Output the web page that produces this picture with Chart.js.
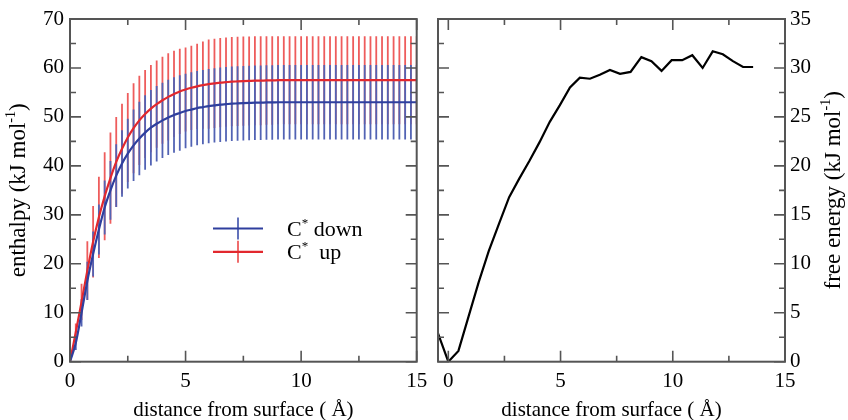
<!DOCTYPE html>
<html lang="en">
<head>
    <meta charset="UTF-8">
    <title>enthalpy and free energy vs distance</title>
    <script src="https://cdn.jsdelivr.net/npm/chart.js"></script>
    <style>
        body {
            margin: 0;
            padding: 0;
            background: #fff;
            width: 848px;
            height: 420px;
            overflow: hidden;
            position: relative;
        }
        canvas {
            position: absolute;
            top: 0;
        }
        #enthalpyChart { left: 0; }
        #freeChart { left: 430px; }
    </style>
</head>
<body>

    <canvas id="enthalpyChart" width="440" height="420"></canvas>
    <canvas id="freeChart" width="418" height="420"></canvas>

    <script>
        // left panel: enthalpy (kJ/mol) vs distance (A), mean and error
        const distance = [0, 0.25, 0.5, 0.75, 1, 1.25, 1.5, 1.75, 2, 2.25, 2.5, 2.75, 3, 3.25, 3.5, 3.75,
            4, 4.25, 4.5, 4.75, 5, 5.25, 5.5, 5.75, 6, 6.25, 6.5, 6.75, 7, 7.25, 7.5, 7.75,
            8, 8.25, 8.5, 8.75, 9, 9.25, 9.5, 9.75, 10, 10.25, 10.5, 10.75, 11, 11.25, 11.5, 11.75,
            12, 12.25, 12.5, 12.75, 13, 13.25, 13.5, 13.75, 14, 14.25, 14.5, 14.75, 15];

        const downMean = [0, 3.8, 10.0, 16.5, 22.0, 27.0, 31.5, 35.0, 38.0, 40.5, 42.5, 44.2, 45.6, 46.8, 47.8, 48.6,
            49.3, 49.9, 50.4, 50.8, 51.2, 51.5, 51.8, 52.0, 52.2, 52.35, 52.5, 52.6, 52.7, 52.75, 52.8, 52.85,
            52.9, 52.9, 52.95, 52.95, 53.0, 53.0, 53.0, 53.0, 53.0, 53.0, 53.0, 53.0, 53.0, 53.0, 53.0, 53.0,
            53.0, 53.0, 53.0, 53.0, 53.0, 53.0, 53.0, 53.0, 53.0, 53.0, 53.0, 53.0, 53.0];
        const downErr = [0, 1.4, 2.8, 3.9, 4.6, 5.1, 5.5, 6.0, 6.4, 6.8, 7.1, 7.3, 7.5, 7.6, 7.7, 7.7,
            7.7, 7.7, 7.7, 7.7, 7.6, 7.6, 7.6, 7.6, 7.6, 7.6, 7.6, 7.6, 7.6, 7.6, 7.6, 7.6,
            7.6, 7.6, 7.6, 7.6, 7.6, 7.6, 7.6, 7.6, 7.6, 7.6, 7.6, 7.6, 7.6, 7.6, 7.6, 7.6,
            7.6, 7.6, 7.6, 7.6, 7.6, 7.6, 7.6, 7.6, 7.6, 7.6, 7.6, 7.6, 7.6];

        const upMean = [0, 6.0, 12.2, 18.6, 24.5, 29.5, 33.8, 37.5, 40.8, 43.5, 45.8, 47.7, 49.3, 50.6, 51.7, 52.6,
            53.4, 54.1, 54.7, 55.2, 55.6, 55.95, 56.25, 56.5, 56.7, 56.85, 57.0, 57.1, 57.2, 57.25, 57.3, 57.35,
            57.4, 57.4, 57.45, 57.45, 57.5, 57.5, 57.5, 57.5, 57.5, 57.5, 57.5, 57.5, 57.5, 57.5, 57.5, 57.5,
            57.5, 57.5, 57.5, 57.5, 57.5, 57.5, 57.5, 57.5, 57.5, 57.5, 57.5, 57.5, 57.5];
        const upErr = [0, 1.8, 3.7, 6.0, 7.3, 8.3, 9.0, 9.3, 9.2, 9.2, 9.1, 9.2, 9.1, 9.0, 8.9, 8.9,
            8.9, 8.9, 8.8, 8.7, 8.6, 8.6, 8.7, 8.9, 9.1, 9.1, 9.1, 9.1, 9.1, 9.1, 9.1, 9.1,
            9.1, 9.1, 9.05, 9.05, 9.0, 9.0, 9.0, 9.0, 9.0, 9.0, 9.0, 9.0, 9.0, 9.0, 9.0, 9.0,
            9.0, 9.0, 9.0, 9.0, 9.0, 9.0, 9.0, 9.0, 9.0, 9.0, 9.0, 9.0, 9.0];

        // right panel: free energy (kJ/mol) vs distance (A)
        const freeX = [-0.46, 0, 0.45, 0.9, 1.35, 1.8, 2.26, 2.71, 3.16, 3.61, 4.06, 4.52, 4.97, 5.42, 5.86, 6.31,
            6.75, 7.2, 7.65, 8.12, 8.6, 9.05, 9.5, 9.95, 10.42, 10.87, 11.33, 11.78, 12.23, 12.68, 13.13, 13.58];
        const freeY = [2.9, 0, 1.1, 4.6, 8.1, 11.3, 14.1, 16.8, 18.7, 20.5, 22.4, 24.5, 26.2, 28.0, 29.0, 28.9,
            29.3, 29.8, 29.4, 29.6, 31.1, 30.7, 29.7, 30.8, 30.8, 31.3, 30.0, 31.7, 31.4, 30.7, 30.1, 30.1];

        // ticks
        const xMajor = [0, 5, 10, 15];
        const xMinor = [2.5, 7.5, 12.5];
        const enthalpyMajor = [0, 10, 20, 30, 40, 50, 60, 70];
        const enthalpyMinor = [5, 15, 25, 35, 45, 55, 65];
        const freeMajor = [0, 5, 10, 15, 20, 25, 30, 35];
        const freeMinor = [2.5, 7.5, 12.5, 17.5, 22.5, 27.5, 32.5];

        const SERIF = "'Liberation Serif', 'DejaVu Serif', serif";
        const BLUE = '#2f3f9e', BLUE_BAR = '#5263b4';
        const RED = '#e2282e', RED_BAR = '#ee5c5c';

        const toPoints = (xs, ys) => xs.map((x, i) => ({ x: x, y: ys[i] }));

        // text with superscript pieces: parts = [[text, isSup], ...]
        function drawParts(ctx, parts, x, y, size, rotate, align) {
            ctx.save();
            ctx.translate(x, y);
            if (rotate) ctx.rotate(rotate);
            const big = size + 'px ' + SERIF;
            const small = Math.round(size * 0.6) + 'px ' + SERIF;
            let total = 0;
            parts.forEach(p => { ctx.font = p[1] ? small : big; total += ctx.measureText(p[0]).width; });
            let cx = align === 'left' ? 0 : -total / 2;
            ctx.fillStyle = '#000';
            ctx.textBaseline = 'alphabetic';
            ctx.textAlign = 'left';
            parts.forEach(p => {
                ctx.font = p[1] ? small : big;
                ctx.fillText(p[0], cx, p[1] ? -size * 0.42 : 0);
                cx += ctx.measureText(p[0]).width;
            });
            ctx.restore();
        }

        // vertical error bars, drawn under the lines
        const errorBars = {
            id: 'errorBars',
            beforeDatasetsDraw(chart) {
                const { ctx, chartArea: a, scales: { x, y } } = chart;
                ctx.save();
                ctx.beginPath();
                ctx.rect(a.left, a.top, a.right - a.left, a.bottom - a.top);
                ctx.clip();
                ctx.lineWidth = 1.8;
                for (let d = chart.data.datasets.length - 1; d >= 0; d--) {
                    const ds = chart.data.datasets[d];
                    if (!ds.errors) continue;
                    ctx.strokeStyle = ds.errorColor;
                    ds.data.forEach((p, i) => {
                        const e = ds.errors[i];
                        if (!e) return;
                        const px = x.getPixelForValue(p.x);
                        ctx.beginPath();
                        ctx.moveTo(px, y.getPixelForValue(p.y - e));
                        ctx.lineTo(px, y.getPixelForValue(p.y + e));
                        ctx.stroke();
                    });
                }
                ctx.restore();
            }
        };

        // box frame with inward ticks on all four sides, axis titles
        const frame = {
            id: 'frame',
            afterDraw(chart, args, o) {
                const { ctx, chartArea: a, scales: { x, y } } = chart;
                ctx.save();
                ctx.strokeStyle = '#555';
                ctx.lineWidth = 1.6;
                ctx.beginPath();
                const xt = (v, len) => {
                    const px = x.getPixelForValue(v);
                    ctx.moveTo(px, a.bottom); ctx.lineTo(px, a.bottom - len);
                    ctx.moveTo(px, a.top); ctx.lineTo(px, a.top + len);
                };
                const yt = (v, len) => {
                    const py = y.getPixelForValue(v);
                    ctx.moveTo(a.left, py); ctx.lineTo(a.left + len, py);
                    ctx.moveTo(a.right, py); ctx.lineTo(a.right - len, py);
                };
                o.xMajor.forEach(v => xt(v, 11));
                o.xMinor.forEach(v => xt(v, 6));
                o.yMajor.forEach(v => yt(v, 11));
                o.yMinor.forEach(v => yt(v, 6));
                ctx.stroke();
                ctx.lineWidth = 2;
                ctx.strokeRect(a.left, a.top, a.right - a.left, a.bottom - a.top);
                ctx.restore();

                const midX = (a.left + a.right) / 2, midY = (a.top + a.bottom) / 2;
                drawParts(ctx, [['distance from surface ( Å)', false]], midX, a.bottom + 54, 21);
                const yx = o.titleSide === 'right' ? a.right + 55 : a.left - 45;
                drawParts(ctx, o.yTitle, yx, midY, 23, -Math.PI / 2);
            }
        };

        // legend for the left panel
        const legendBox = {
            id: 'legendBox',
            afterDraw(chart, args, o) {
                const ctx = chart.ctx;
                o.items.forEach((it, k) => {
                    const ly = o.y + k * o.gap;
                    ctx.save();
                    ctx.strokeStyle = it.bar;
                    ctx.lineWidth = 1.8;
                    ctx.beginPath();
                    ctx.moveTo(o.x + 25, ly - 11);
                    ctx.lineTo(o.x + 25, ly + 11);
                    ctx.stroke();
                    ctx.strokeStyle = it.line;
                    ctx.lineWidth = 2.2;
                    ctx.beginPath();
                    ctx.moveTo(o.x, ly);
                    ctx.lineTo(o.x + 50, ly);
                    ctx.stroke();
                    ctx.restore();
                    drawParts(ctx, it.text, o.x + 74, ly + 7.5, 22, 0, 'left');
                });
            }
        };

        const tickFont = { family: SERIF, size: 21 };

        new Chart(document.getElementById('enthalpyChart'), {
            type: 'line',
            data: {
                datasets: [{
                    label: 'C* down',
                    data: toPoints(distance, downMean),
                    errors: downErr,
                    errorColor: BLUE_BAR,
                    borderColor: BLUE,
                    borderWidth: 2.2,
                    pointRadius: 0,
                    cubicInterpolationMode: 'monotone'
                }, {
                    label: 'C* up',
                    data: toPoints(distance, upMean),
                    errors: upErr,
                    errorColor: RED_BAR,
                    borderColor: RED,
                    borderWidth: 2.2,
                    pointRadius: 0,
                    cubicInterpolationMode: 'monotone'
                }]
            },
            options: {
                responsive: false,
                animation: false,
                layout: { padding: { top: 19, right: 23.3, left: 0, bottom: 0 } },
                plugins: {
                    legend: { display: false },
                    tooltip: { enabled: false },
                    frame: {
                        xMajor: xMajor, xMinor: xMinor,
                        yMajor: enthalpyMajor, yMinor: enthalpyMinor,
                        yTitle: [['enthalpy (kJ mol', false], ['-1', true], [')', false]]
                    },
                    legendBox: {
                        x: 213, y: 228.5, gap: 23.3,
                        items: [
                            { line: BLUE, bar: BLUE_BAR, text: [['C', false], ['*', true], [' down', false]] },
                            { line: RED, bar: RED_BAR, text: [['C', false], ['*', true], ['  up', false]] }
                        ]
                    }
                },
                scales: {
                    x: {
                        type: 'linear', min: 0, max: 15,
                        afterBuildTicks: s => { s.ticks = xMajor.map(v => ({ value: v })); },
                        afterFit: s => { s.height = 58.3; s.paddingLeft = 0; s.paddingRight = 0; },
                        ticks: { font: tickFont, color: '#000', padding: 7, maxRotation: 0, autoSkip: false },
                        grid: { display: false, drawTicks: false },
                        border: { display: false }
                    },
                    y: {
                        type: 'linear', min: 0, max: 70,
                        afterBuildTicks: s => { s.ticks = enthalpyMajor.map(v => ({ value: v })); },
                        afterFit: s => { s.width = 70; s.paddingTop = 0; s.paddingBottom = 0; },
                        ticks: { font: tickFont, color: '#000', padding: 6 },
                        grid: { display: false, drawTicks: false },
                        border: { display: false }
                    }
                }
            },
            plugins: [errorBars, frame, legendBox]
        });

        new Chart(document.getElementById('freeChart'), {
            type: 'line',
            data: {
                datasets: [{
                    label: 'free energy',
                    data: toPoints(freeX, freeY),
                    borderColor: '#000',
                    borderWidth: 2.2,
                    pointRadius: 0,
                    tension: 0
                }]
            },
            options: {
                responsive: false,
                animation: false,
                layout: { padding: { top: 19, right: 0, left: 8, bottom: 0 } },
                plugins: {
                    legend: { display: false },
                    tooltip: { enabled: false },
                    frame: {
                        xMajor: xMajor, xMinor: xMinor,
                        yMajor: freeMajor, yMinor: freeMinor,
                        titleSide: 'right',
                        yTitle: [['free energy (kJ mol', false], ['-1', true], [')', false]]
                    }
                },
                scales: {
                    x: {
                        type: 'linear', min: -0.46, max: 15,
                        afterBuildTicks: s => { s.ticks = xMajor.map(v => ({ value: v })); },
                        afterFit: s => { s.height = 58.3; s.paddingLeft = 0; s.paddingRight = 0; },
                        ticks: { font: tickFont, color: '#000', padding: 7, maxRotation: 0, autoSkip: false },
                        grid: { display: false, drawTicks: false },
                        border: { display: false }
                    },
                    y: {
                        type: 'linear', position: 'right', min: 0, max: 35,
                        afterBuildTicks: s => { s.ticks = freeMajor.map(v => ({ value: v })); },
                        afterFit: s => { s.width = 63; s.paddingTop = 0; s.paddingBottom = 0; },
                        ticks: { font: tickFont, color: '#000', padding: 5 },
                        grid: { display: false, drawTicks: false },
                        border: { display: false }
                    }
                }
            },
            plugins: [frame]
        });
    </script>

</body>
</html>
